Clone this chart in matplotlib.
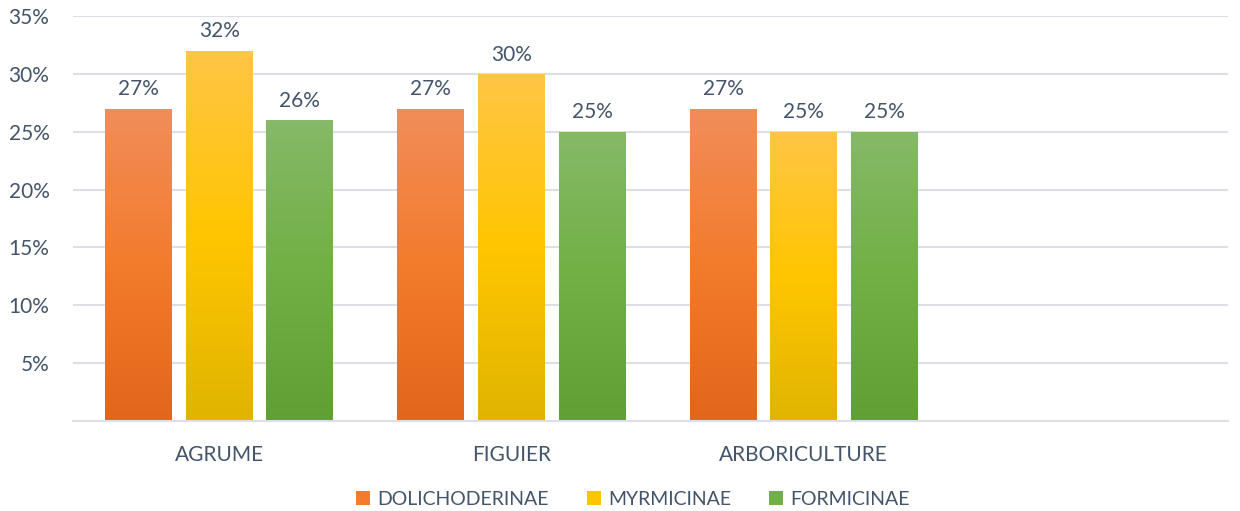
import numpy as np
import matplotlib
matplotlib.use("Agg")
from matplotlib import pyplot as plt
from matplotlib.colors import LinearSegmentedColormap
from matplotlib.patches import Patch

categories = ["AGRUME", "FIGUIER", "ARBORICULTURE", ""]
series = ["DOLICHODERINAE", "MYRMICINAE", "FORMICINAE"]
dolichoderinae = [27, 27, 27, None]
myrmicinae = [32, 30, 25, None]
formicinae = [26, 25, 25, None]
values = [dolichoderinae, myrmicinae, formicinae]

# top / middle / bottom of each bar gradient
gradients = [
    ["#F18D5A", "#F37B2C", "#E2661A"],
    ["#FFC546", "#FFC600", "#E0B400"],
    ["#86B968", "#70B044", "#5F9F33"],
]
text_col = "#44546A"
grid_col = "#DCDFE8"

plt.rcParams['font.family'] = ['Lato', 'DejaVu Sans']

fig = plt.figure(figsize=(12.4, 5.11), dpi=100)
ax = fig.add_axes([0.0589, 0.176, 0.9315, 0.7927])

width = 0.229
step = 0.2755
x = np.arange(len(categories))

for i, (vals, grad) in enumerate(zip(values, gradients)):
    cmap = LinearSegmentedColormap.from_list("g%d" % i, grad[::-1])
    for j, v in enumerate(vals):
        if v is None:
            continue
        xc = x[j] + (i - 1) * step
        bars = ax.bar(xc, v, width, color="none", zorder=2)
        img = ax.imshow(np.linspace(0, 1, 256).reshape(-1, 1), cmap=cmap,
                        origin="lower", aspect="auto", zorder=2,
                        extent=[xc - width / 2, xc + width / 2, 0, v])
        img.set_clip_path(bars[0])
        ax.text(xc, v + 0.8, "%d%%" % v, ha="center", va="bottom",
                fontsize=15, color=text_col)

ax.set_xlim(-0.5, 3.452)
ax.set_ylim(0, 35)
ax.set_yticks([5, 10, 15, 20, 25, 30, 35])
ax.set_yticklabels(["%d%%" % t for t in [5, 10, 15, 20, 25, 30, 35]])
ax.set_xticks(x)
ax.set_xticklabels(categories)
ax.tick_params(axis="both", length=0, labelsize=15, colors=text_col)
ax.tick_params(axis="x", pad=17)
ax.tick_params(axis="y", pad=17)
ax.grid(axis="y", color=grid_col, linewidth=1.5, zorder=0)
ax.set_axisbelow(True)
for s in ["top", "right", "left"]:
    ax.spines[s].set_visible(False)
ax.spines["bottom"].set_color(grid_col)
ax.spines["bottom"].set_linewidth(1.5)

handles = [Patch(facecolor=g[1], edgecolor="none") for g in gradients]
fig.legend(handles, series, loc="lower center", ncol=3, frameon=False,
           bbox_to_anchor=(0.5105, -0.028), fontsize=14, labelcolor=text_col,
           handlelength=0.72, handleheight=0.72, handletextpad=0.38, columnspacing=1.95)

fig.savefig("out.png", dpi=100)
